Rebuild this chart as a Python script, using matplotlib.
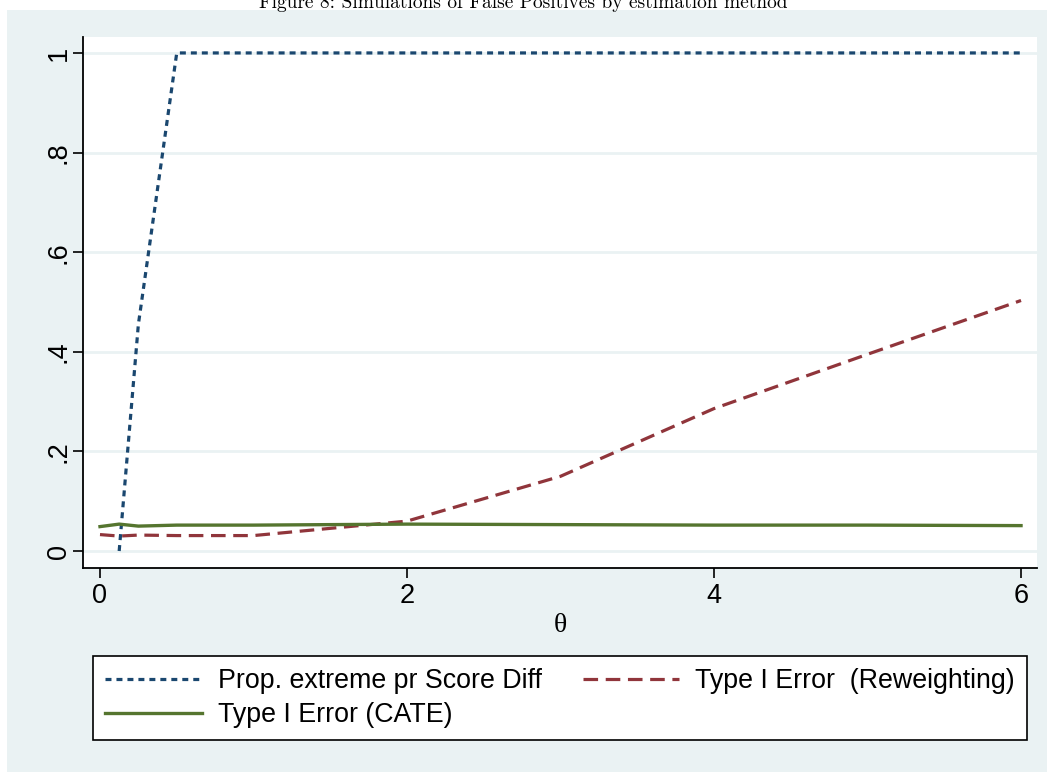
import numpy as np
import matplotlib
matplotlib.use("Agg")
import matplotlib.pyplot as plt
from matplotlib.patches import Rectangle

# datos
theta = [0, 0.125, 0.25, 0.5, 1, 2, 3, 4, 5, 6]
prop_extreme = [np.nan, 0.0, 0.455, 1.0, 1.0, 1.0, 1.0, 1.0, 1.0, 1.0]
type1_reweight = [0.033, 0.030, 0.032, 0.031, 0.031, 0.060, 0.150, 0.286, 0.395, 0.503]
type1_cate = [0.049, 0.054, 0.050, 0.052, 0.052, 0.054, 0.053, 0.052, 0.052, 0.051]

yticks = [0, 0.2, 0.4, 0.6, 0.8, 1.0]
ytick_labels = ["0", ".2", ".4", ".6", ".8", "1"]
xticks = [0, 2, 4, 6]

labels = ["Prop. extreme pr Score Diff", "Type I Error  (Reweighting)", "Type I Error (CATE)"]
title = "Figure 8: Simulations of False Positives by estimation method"

# colores estilo Stata s2color
navy = "#1A476F"
maroon = "#90353B"
green = "#55752F"
bg = "#EAF2F3"

plt.rcParams["lines.scale_dashes"] = False
plt.rcParams["font.family"] = ["Liberation Sans", "DejaVu Sans"]

W, H = 1047, 772
fig = plt.figure(figsize=(W / 100, H / 100), dpi=100)
fig.patch.set_facecolor("white")
fig.patches.append(Rectangle((7 / W, 0), 1 - 7 / W, (H - 10) / H,
                             transform=fig.transFigure, facecolor=bg,
                             edgecolor="none", zorder=-5))

# titulo cortado arriba, como en el original
fig.text(0.5, 1 - 8 / H, title, ha="center", va="baseline",
         fontsize=14, family="cmr10")

ax = fig.add_axes([83 / W, (H - 568) / H, (1037 - 83) / W, (568 - 37) / H])
ax.set_facecolor("white")

l1, = ax.plot(theta, prop_extreme, color=navy, lw=2.3, dashes=(4.3, 3.6))
l2, = ax.plot(theta, type1_reweight, color=maroon, lw=2.3, dashes=(10.5, 5.5))
l3, = ax.plot(theta, type1_cate, color=green, lw=2.4)

ax.set_xlim(-0.1107, 6.104)
ax.set_ylim(-0.0341, 1.032)

ax.set_yticks(yticks)
ax.set_yticklabels(ytick_labels, rotation=90, va="center")
ax.set_xticks(xticks)
ax.tick_params(axis="both", labelsize=19.5, length=7, width=1.2, color="black")
ax.tick_params(axis="y", pad=1)
ax.tick_params(axis="x", pad=4)

ax.grid(axis="y", color=bg, lw=2.0)
ax.set_axisbelow(True)
for s in ["top", "right"]:
    ax.spines[s].set_visible(False)
for s in ["left", "bottom"]:
    ax.spines[s].set_linewidth(1.3)

ax.set_xlabel("θ", fontsize=20, family="Liberation Serif", labelpad=3)

# orden por filas como en Stata
leg = fig.legend([l1, l3, l2], [labels[0], labels[2], labels[1]], ncol=2, mode="expand",
                 bbox_to_anchor=(93 / W, 31 / H, 934 / W, 86 / H),
                 loc="center", fontsize=19.3, frameon=True, fancybox=False,
                 edgecolor="black", facecolor="white", framealpha=1,
                 handlelength=3.6, handletextpad=0.6,
                 labelspacing=0.3, borderaxespad=0, borderpad=0.45)
leg.get_frame().set_linewidth(1.2)

fig.savefig("out.png", dpi=100, facecolor="white")
